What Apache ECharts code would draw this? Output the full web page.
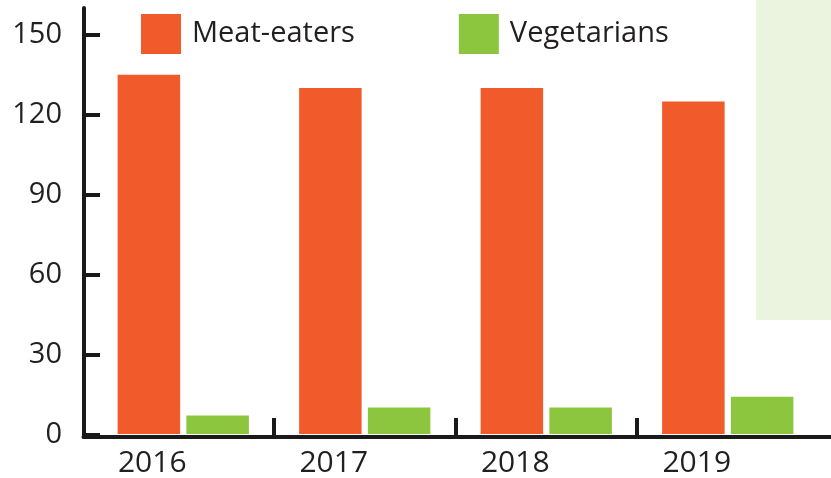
<!DOCTYPE html>
<html>
<head>
<meta charset="utf-8">
<script src="https://cdn.jsdelivr.net/npm/echarts@6/dist/echarts.min.js"></script>
<style>
html,body{margin:0;padding:0;background:#fff;}
#chart{width:831px;height:478px;}
</style>
</head>
<body>
<div id="chart"></div>
<script>
const categories = ['2016', '2017', '2018', '2019'];
const meatEaters = [135, 130, 130, 125];
const vegetarians = [7, 10, 10, 14];
const yTicks = { min: 0, max: 160, interval: 30 };

const FONT = '"Open Sans", "Noto Sans", sans-serif';
const TXT = '#231f20';
const LINE = '#1a1a1a';

const chart = echarts.init(document.getElementById('chart'), null, { renderer: 'canvas' });
chart.setOption({
  animation: false,
  backgroundColor: '#ffffff',
  graphic: [{
    type: 'rect', z: -10, silent: true,
    shape: { x: 756, y: 0, width: 75, height: 320 },
    style: { fill: '#eaf4df' }
  }],
  legend: {
    left: 136, top: 9,
    itemWidth: 40, itemHeight: 40,
    itemGap: 104,
    icon: 'rect',
    textStyle: { fontFamily: FONT, fontSize: 29, color: TXT, padding: [0, 0, 0, 6] },
    data: ['Meat-eaters', 'Vegetarians']
  },
  grid: [
    { left: 92.5, right: 12.5, top: 8.3, bottom: 43 },
    { left: 83.5, right: 0, top: 8, bottom: 41 },
    { left: 83, width: 17, top: 8.3, bottom: 43 },
    { left: 92.5, right: 12.5, top: 418, bottom: 41 }
  ],
  xAxis: [
    {
      gridIndex: 0, type: 'category', data: categories,
      axisLine: { show: false }, axisTick: { show: false },
      axisLabel: { fontFamily: FONT, fontSize: 30, color: TXT, margin: 14, align: 'center', padding: [0, 62, 0, 0] }
    },
    {
      gridIndex: 1, type: 'value', min: 0, max: 1,
      axisLine: { show: true, lineStyle: { color: LINE, width: 4 } },
      axisTick: { show: false }, axisLabel: { show: false }, splitLine: { show: false }
    },
    {
      gridIndex: 2, type: 'value', min: 0, max: 1, show: false
    },
    {
      gridIndex: 3, type: 'category', data: categories,
      axisLine: { show: false }, axisTick: { show: false }, axisLabel: { show: false },
      splitLine: { show: true, showMinLine: false, showMaxLine: false, lineStyle: { color: LINE, width: 4 } }
    }
  ],
  yAxis: [
    { gridIndex: 0, type: 'value', min: yTicks.min, max: yTicks.max, interval: yTicks.interval, show: false },
    {
      gridIndex: 1, type: 'value', min: 0, max: 1,
      axisLine: { show: true, lineStyle: { color: LINE, width: 4 } },
      axisTick: { show: false }, axisLabel: { show: false }, splitLine: { show: false }
    },
    {
      gridIndex: 2, type: 'value', min: yTicks.min, max: yTicks.max, interval: yTicks.interval,
      axisLine: { show: false }, axisTick: { show: false },
      axisLabel: { fontFamily: FONT, fontSize: 29, color: TXT, margin: 21, showMaxLabel: false },
      splitLine: { show: true, showMaxLine: false, lineStyle: { color: LINE, width: 4 } }
    },
    { gridIndex: 3, type: 'value', min: 0, max: 1, show: false }
  ],
  series: [
    {
      name: 'Meat-eaters', type: 'bar', xAxisIndex: 0, yAxisIndex: 0,
      data: meatEaters, barWidth: 62.5, barGap: '10%',
      itemStyle: { color: '#f15a2b' }
    },
    {
      name: 'Vegetarians', type: 'bar', xAxisIndex: 0, yAxisIndex: 0,
      data: vegetarians, barWidth: 62.5, barGap: '10%',
      itemStyle: { color: '#8cc63e' }
    }
  ]
});
</script>
</body>
</html>
